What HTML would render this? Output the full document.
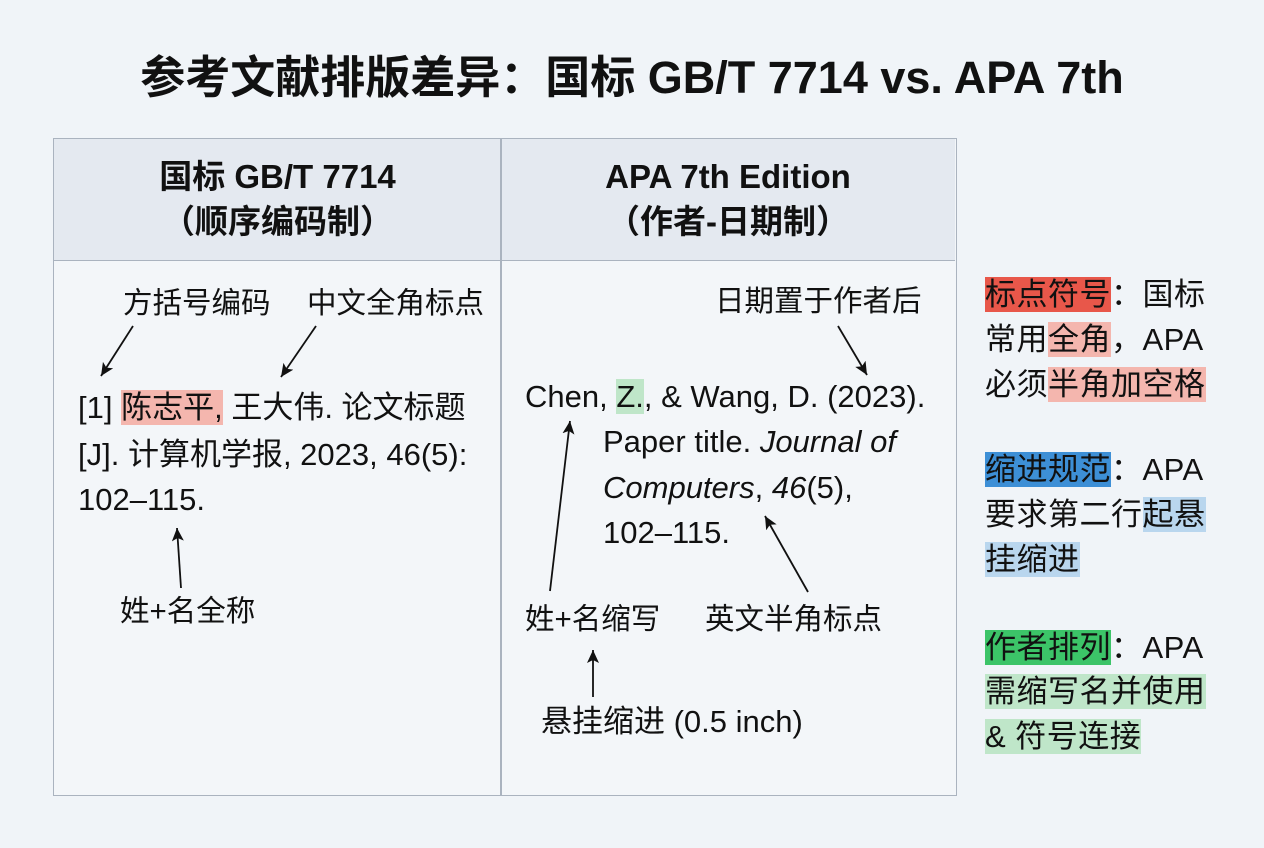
<!DOCTYPE html>
<html><head><meta charset="utf-8"><style>
body{margin:0;width:1264px;height:848px;background:#f0f4f8;font-family:"Liberation Sans","Noto Sans CJK SC",sans-serif;color:#111;position:relative;overflow:hidden}
.t{position:absolute;white-space:nowrap;font-size:31px;line-height:36px}
.s{font-size:31px;letter-spacing:0.5px}
.l{font-size:29.5px}
.b{font-weight:bold}
.r{background:#f4b6ae}.R{background:#e8574a}
.bl{background:#b9d6ee}.B{background:#3d8fd6}
.g{background:#bfe6c9}.G{background:#3cc468}
</style></head><body>
<div class="t b" style="left:0;width:1264px;text-align:center;top:52px;font-size:45px;line-height:52px">参考文献排版差异：国标 GB/T 7714 vs. APA 7th</div>
<div style="position:absolute;left:53px;top:138px;width:902px;height:656px;border:1.5px solid #aab3bf;background:#f3f6f9"></div>
<div style="position:absolute;left:54px;top:139px;width:901px;height:121px;background:#e4e9f0;border-bottom:1.5px solid #aab3bf"></div>
<div style="position:absolute;left:500px;top:139px;width:1.5px;height:656px;background:#aab3bf"></div>
<div class="t b" style="left:54px;width:447px;text-align:center;top:159px;font-size:33px">国标 GB/T 7714</div>
<div class="t b" style="left:54px;width:447px;text-align:center;top:204px;font-size:33px">（顺序编码制）</div>
<div class="t b" style="left:501px;width:454px;text-align:center;top:159px;font-size:33px">APA 7th Edition</div>
<div class="t b" style="left:501px;width:454px;text-align:center;top:204px;font-size:33px">（作者-日期制）</div>

<div class="t l" style="left:123px;top:286px">方括号编码</div>
<div class="t l" style="left:307px;top:286px">中文全角标点</div>
<div class="t" style="left:78px;top:390px">[1] <span class="r">陈志平,</span> 王大伟. 论文标题</div>
<div class="t" style="left:78px;top:437px">[J]. 计算机学报, 2023, 46(5):</div>
<div class="t" style="left:78px;top:482px">102–115.</div>
<div class="t l" style="left:120px;top:594px">姓+名全称</div>

<div class="t l" style="left:715px;top:284px">日期置于作者后</div>
<div class="t" style="left:525px;top:379px">Chen, <span class="g">Z.</span>, &amp; Wang, D. (2023).</div>
<div class="t" style="left:603px;top:424px">Paper title. <i>Journal of</i></div>
<div class="t" style="left:603px;top:470px"><i>Computers</i>, <i>46</i>(5),</div>
<div class="t" style="left:603px;top:515px">102–115.</div>
<div class="t l" style="left:525px;top:602px">姓+名缩写</div>
<div class="t l" style="left:705px;top:602px">英文半角标点</div>
<div class="t" style="left:541px;top:704px">悬挂缩进 (0.5 inch)</div>

<svg style="position:absolute;left:0;top:0" width="1264" height="848">
<defs><marker id="a" markerWidth="14" markerHeight="14" refX="13" refY="6" orient="auto" markerUnits="userSpaceOnUse"><path d="M0,0 L13,6 L0,12 L3,6 z" fill="#111"/></marker></defs>
<g stroke="#111" stroke-width="1.8" marker-end="url(#a)">
<line x1="133" y1="326" x2="101" y2="376"/>
<line x1="316" y1="326" x2="281" y2="377"/>
<line x1="181" y1="588" x2="177" y2="528"/>
<line x1="838" y1="326" x2="867" y2="375"/>
<line x1="550" y1="591" x2="570" y2="421"/>
<line x1="808" y1="592" x2="765" y2="516"/>
<line x1="593" y1="697" x2="593" y2="650"/>
</g></svg>

<div class="t s" style="left:985px;top:277px"><span class="R">标点符号</span>：国标</div>
<div class="t s" style="left:985px;top:322px">常用<span class="r">全角</span>，APA</div>
<div class="t s" style="left:985px;top:367px">必须<span class="r">半角加空格</span></div>
<div class="t s" style="left:985px;top:452px"><span class="B">缩进规范</span>：APA</div>
<div class="t s" style="left:985px;top:497px">要求第二行<span class="bl">起悬</span></div>
<div class="t s" style="left:985px;top:542px"><span class="bl">挂缩进</span></div>
<div class="t s" style="left:985px;top:630px"><span class="G">作者排列</span>：APA</div>
<div class="t s" style="left:985px;top:674px"><span class="g">需缩写名并使用</span></div>
<div class="t s" style="left:985px;top:719px"><span class="g">&amp; 符号连接</span></div>
</body></html>
